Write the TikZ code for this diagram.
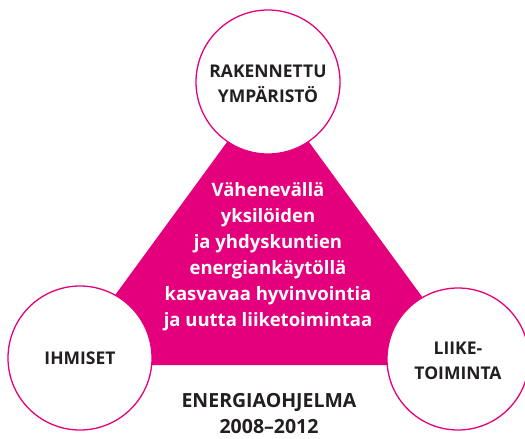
\documentclass[tikz,border=0pt]{standalone}
\usepackage{fontspec}
\setmainfont{Open Sans}
\definecolor{mag}{HTML}{E4007C}
\definecolor{dark}{HTML}{231F20}
\begin{document}
\begin{tikzpicture}[x=1pt,y=-1pt,
  circ/.style={circle,draw=mag,line width=1.3pt,fill=white,minimum size=144pt,inner sep=0pt},
  lab/.style={text=dark,font=\fontsize{17.5}{25}\selectfont\bfseries,align=center},
  inner/.style={text=white,font=\fontsize{18.5}{26}\selectfont\bfseries,align=center}]
\useasboundingbox (0,0) rectangle (525,439);
\coordinate (apex) at (268,86);
\coordinate (bl) at (64,365);
\coordinate (br) at (472,365);
\fill[mag] (apex) -- (bl) -- (br) -- cycle;
\node[circ] (top) at (268,82) {};
\node[circ] (left) at (80,358) {};
\node[circ,minimum size=142pt] (right) at (458,359) {};
\node[lab] (toplab) at (268,84) {RAKENNETTU\\YMPÄRISTÖ};
\node[lab] (leftlab) at (80,358) {IHMISET};
\node[lab] (rightlab) at (458,361) {LIIKE-\\TOIMINTA};
\node[inner] (mid) at (268,257) {Vähenevällä\\yksilöiden\\ja yhdyskuntien\\energiankäytöllä\\kasvavaa hyvinvointia\\ja uutta liiketoimintaa};
\node[lab,font=\fontsize{19.5}{26}\selectfont\bfseries,inner sep=0pt] (title) at (269,414) {ENERGIAOHJELMA\\2008–2012};
\end{tikzpicture}
\end{document}
